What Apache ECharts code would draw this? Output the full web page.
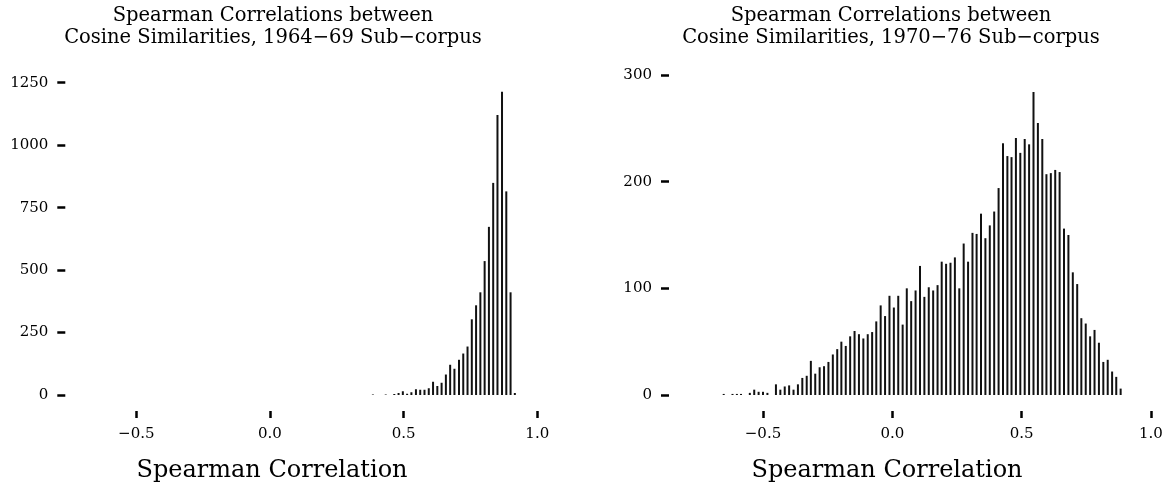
<!DOCTYPE html>
<html>
<head>
<meta charset="utf-8">
<script src="https://cdn.jsdelivr.net/npm/echarts@6.0.0/dist/echarts.min.js"></script>
<style>
  html, body { margin: 0; padding: 0; background: #fff; }
  #chart { width: 1172px; height: 499px; }
</style>
</head>
<body>
<div id="chart"></div>
<script>
// Histogram bins (centres) and counts, 1964–69 sub-corpus
const leftCenters = [0.385, 0.433, 0.465, 0.481, 0.497, 0.513, 0.529, 0.546, 0.562, 0.578,
  0.594, 0.610, 0.626, 0.642, 0.658, 0.674, 0.690, 0.707, 0.723, 0.739,
  0.755, 0.771, 0.787, 0.803, 0.819, 0.835, 0.851, 0.868, 0.884, 0.900, 0.916];
const leftCounts = [2, 2, 4, 8, 15, 5, 11, 23, 21, 21,
  27, 53, 36, 49, 82, 121, 105, 141, 166, 194,
  303, 359, 411, 536, 673, 849, 1121, 1214, 815, 411, 8];

// Histogram bins (centres) and counts, 1970–76 sub-corpus
const rightCenters = [-0.652, -0.635, -0.618, -0.601, -0.585, -0.568, -0.551, -0.534, -0.517, -0.500,
  -0.483, -0.466, -0.450, -0.433, -0.416, -0.399, -0.382, -0.365, -0.348, -0.331,
  -0.315, -0.298, -0.281, -0.264, -0.247, -0.230, -0.213, -0.197, -0.180, -0.163,
  -0.146, -0.129, -0.112, -0.095, -0.078, -0.062, -0.045, -0.028, -0.011, 0.006,
  0.023, 0.040, 0.056, 0.073, 0.090, 0.107, 0.124, 0.141, 0.158, 0.175,
  0.191, 0.208, 0.225, 0.242, 0.259, 0.276, 0.293, 0.310, 0.326, 0.343,
  0.360, 0.377, 0.394, 0.411, 0.428, 0.445, 0.461, 0.478, 0.495, 0.512,
  0.529, 0.546, 0.563, 0.580, 0.596, 0.613, 0.630, 0.647, 0.664, 0.681,
  0.698, 0.715, 0.731, 0.748, 0.765, 0.782, 0.799, 0.816, 0.833, 0.850,
  0.866, 0.883];
const rightCounts = [1, 0, 1, 1, 1, 0, 2, 5, 3, 3,
  2, 0, 10, 5, 8, 9, 5, 10, 16, 18,
  32, 20, 26, 27, 31, 38, 43, 50, 46, 55,
  60, 57, 53, 57, 59, 69, 84, 74, 93, 82,
  93, 66, 100, 88, 98, 121, 92, 101, 98, 103,
  125, 123, 124, 129, 100, 142, 125, 152, 151, 170,
  147, 159, 172, 194, 236, 224, 223, 241, 227, 240,
  235, 284, 255, 240, 207, 208, 211, 209, 156, 150,
  115, 104, 72, 67, 55, 61, 49, 31, 33, 22,
  17, 6];

const xTickValues = [-0.5, 0.0, 0.5, 1.0];
const leftYMax = 1250, leftYStep = 250;
const rightYMax = 300, rightYStep = 100;

const panelTitles = [
  'Spearman Correlations between\nCosine Similarities, 1964\u221269 Sub\u2212corpus',
  'Spearman Correlations between\nCosine Similarities, 1970\u221276 Sub\u2212corpus'
];
const xAxisTitle = 'Spearman Correlation';

const FONT = '"DejaVu Serif", serif';
const INK = '#000';

function fmtTick(v) {
  return (v < 0 ? '\u2212' : '') + Math.abs(v).toFixed(1);
}

function xAxisFor(gridIndex, min) {
  return {
    type: 'value', gridIndex: gridIndex, min: min, max: 1.0,
    offset: 16,
    axisLine: { show: false, onZero: false },
    splitLine: { show: false },
    axisTick: { show: true, customValues: xTickValues, length: 7,
      lineStyle: { color: INK, width: 2.5 } },
    axisLabel: { show: true, customValues: xTickValues, margin: 16,
      formatter: fmtTick, color: INK, fontFamily: FONT, fontSize: 15 }
  };
}

function yAxisFor(gridIndex, max, step, offset) {
  return {
    type: 'value', gridIndex: gridIndex, min: 0, max: max, interval: step,
    offset: offset,
    axisLine: { show: false, onZero: false },
    splitLine: { show: false },
    axisTick: { show: true, length: 8, lineStyle: { color: INK, width: 2.5 } },
    axisLabel: { margin: 17, color: INK, fontFamily: FONT, fontSize: 15,
      formatter: v => String(v) }
  };
}

function barsFor(idx, centers, counts) {
  return {
    type: 'bar', xAxisIndex: idx, yAxisIndex: idx,
    barWidth: 2,
    itemStyle: { color: '#111' },
    data: centers.map((c, i) => [c, counts[i]])
  };
}

function axisTitleAt(cx) {
  return { type: 'text', x: cx, y: 471, style: { text: xAxisTitle,
    font: '24px ' + FONT, fill: INK, align: 'center', verticalAlign: 'middle' } };
}

const titleStyle = { fontFamily: FONT, fontWeight: 'normal', fontSize: 19.5, color: INK, lineHeight: 22 };

const chart = echarts.init(document.getElementById('chart'), null, { renderer: 'canvas' });
chart.setOption({
  animation: false,
  backgroundColor: '#fff',
  title: [
    { text: panelTitles[0], left: 273, top: 5, textAlign: 'center', padding: 0, textStyle: titleStyle },
    { text: panelTitles[1], left: 891, top: 5, textAlign: 'center', padding: 0, textStyle: titleStyle }
  ],
  grid: [
    { left: 69.5, top: 82.7, width: 467.8, height: 312.3 },
    { left: 672.5, top: 75, width: 478.4, height: 320 }
  ],
  xAxis: [xAxisFor(0, -0.75), xAxisFor(1, -0.85)],
  yAxis: [yAxisFor(0, leftYMax, leftYStep, 4.2), yAxisFor(1, rightYMax, rightYStep, 3.5)],
  series: [barsFor(0, leftCenters, leftCounts), barsFor(1, rightCenters, rightCounts)],
  graphic: [axisTitleAt(272), axisTitleAt(887)]
});
</script>
</body>
</html>
